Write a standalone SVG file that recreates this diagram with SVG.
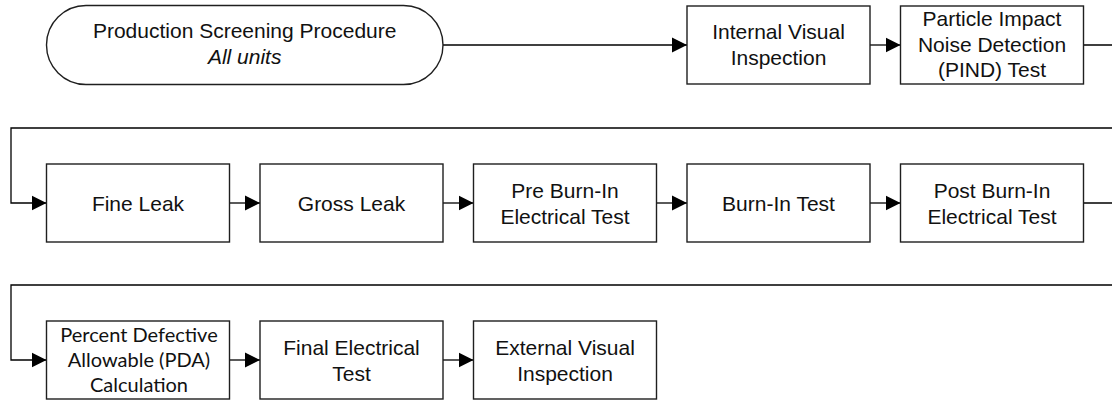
<svg xmlns="http://www.w3.org/2000/svg" width="1112" height="400" viewBox="0 0 1112 400">
  <style>
    .box { fill: #ffffff; stroke: #1f1f1f; stroke-width: 1.4; }
    .lbl { font-family: "Liberation Sans", Arial, sans-serif; font-size: 21px; fill: #111111; text-anchor: middle; }
    .lbl-c { font-family: Lato, "Liberation Sans", sans-serif; font-size: 20px; fill: #111111; text-anchor: middle; }
    .wire { fill: none; stroke: #000000; stroke-width: 1.3; }
  </style>
  <defs>
    <marker id="arrow" markerUnits="userSpaceOnUse" markerWidth="15" markerHeight="16" refX="15" refY="8" orient="auto">
      <path d="M0,0.5 L15,8 L0,15.5 Z" fill="#000000"/>
    </marker>
  </defs>
  <rect width="1112" height="400" fill="#ffffff"/>

  <!-- connectors -->
  <g id="connectors" class="wires">
    <path class="wire" d="M443,45 H687" marker-end="url(#arrow)"/>
    <path class="wire" d="M870,45 H900.5" marker-end="url(#arrow)"/>
    <path class="wire" d="M1083.5,45 H1125 V128 H11 V203 H46.5" marker-end="url(#arrow)"/>
    <path class="wire" d="M229.5,203 H260" marker-end="url(#arrow)"/>
    <path class="wire" d="M443,203 H473.5" marker-end="url(#arrow)"/>
    <path class="wire" d="M656.5,203 H687" marker-end="url(#arrow)"/>
    <path class="wire" d="M870,203 H900.5" marker-end="url(#arrow)"/>
    <path class="wire" d="M1083.5,203 H1125 V285 H11 V360 H46.5" marker-end="url(#arrow)"/>
    <path class="wire" d="M229.5,360 H260" marker-end="url(#arrow)"/>
    <path class="wire" d="M443,360 H473.5" marker-end="url(#arrow)"/>
  </g>

  <!-- row 1 -->
  <g id="start">
    <rect class="box" x="46.5" y="5.5" width="396.5" height="79" rx="39.5" ry="39.5"/>
    <text class="lbl" x="244.7" y="37.5">Production Screening Procedure</text>
    <text class="lbl" x="244.7" y="64" font-style="italic">All units</text>
  </g>
  <g id="internal-visual">
    <rect class="box" x="687" y="6" width="183" height="78"/>
    <text class="lbl" x="778.5" y="39">Internal Visual</text>
    <text class="lbl" x="778.5" y="65">Inspection</text>
  </g>
  <g id="pind">
    <rect class="box" x="900.5" y="6" width="183" height="78"/>
    <text class="lbl" x="992" y="26">Particle Impact</text>
    <text class="lbl" x="992" y="51.7">Noise Detection</text>
    <text class="lbl" x="992" y="77.4">(PIND) Test</text>
  </g>

  <!-- row 2 -->
  <g id="fine-leak">
    <rect class="box" x="46.5" y="164" width="183" height="78"/>
    <text class="lbl" x="138" y="210.5">Fine Leak</text>
  </g>
  <g id="gross-leak">
    <rect class="box" x="260" y="164" width="183" height="78"/>
    <text class="lbl" x="351.5" y="210.5">Gross Leak</text>
  </g>
  <g id="pre-burn-in">
    <rect class="box" x="473.5" y="164" width="183" height="78"/>
    <text class="lbl" x="565" y="197.5">Pre Burn-In</text>
    <text class="lbl" x="565" y="223.5">Electrical Test</text>
  </g>
  <g id="burn-in">
    <rect class="box" x="687" y="164" width="183" height="78"/>
    <text class="lbl" x="778.5" y="210.5">Burn-In Test</text>
  </g>
  <g id="post-burn-in">
    <rect class="box" x="900.5" y="164" width="183" height="78"/>
    <text class="lbl" x="992" y="197.5">Post Burn-In</text>
    <text class="lbl" x="992" y="223.5">Electrical Test</text>
  </g>

  <!-- row 3 -->
  <g id="pda">
    <rect class="box" x="46.5" y="321" width="183" height="78"/>
    <text class="lbl-c" x="139" y="341.7">Percent Defective</text>
    <text class="lbl-c" x="139" y="366.7">Allowable (PDA)</text>
    <text class="lbl-c" x="139" y="391.7">Calculation</text>
  </g>
  <g id="final-electrical">
    <rect class="box" x="260" y="321" width="183" height="78"/>
    <text class="lbl" x="351.5" y="354.5">Final Electrical</text>
    <text class="lbl" x="351.5" y="380.5">Test</text>
  </g>
  <g id="external-visual">
    <rect class="box" x="473.5" y="321" width="183" height="78"/>
    <text class="lbl" x="565" y="354.5">External Visual</text>
    <text class="lbl" x="565" y="380.5">Inspection</text>
  </g>
</svg>
